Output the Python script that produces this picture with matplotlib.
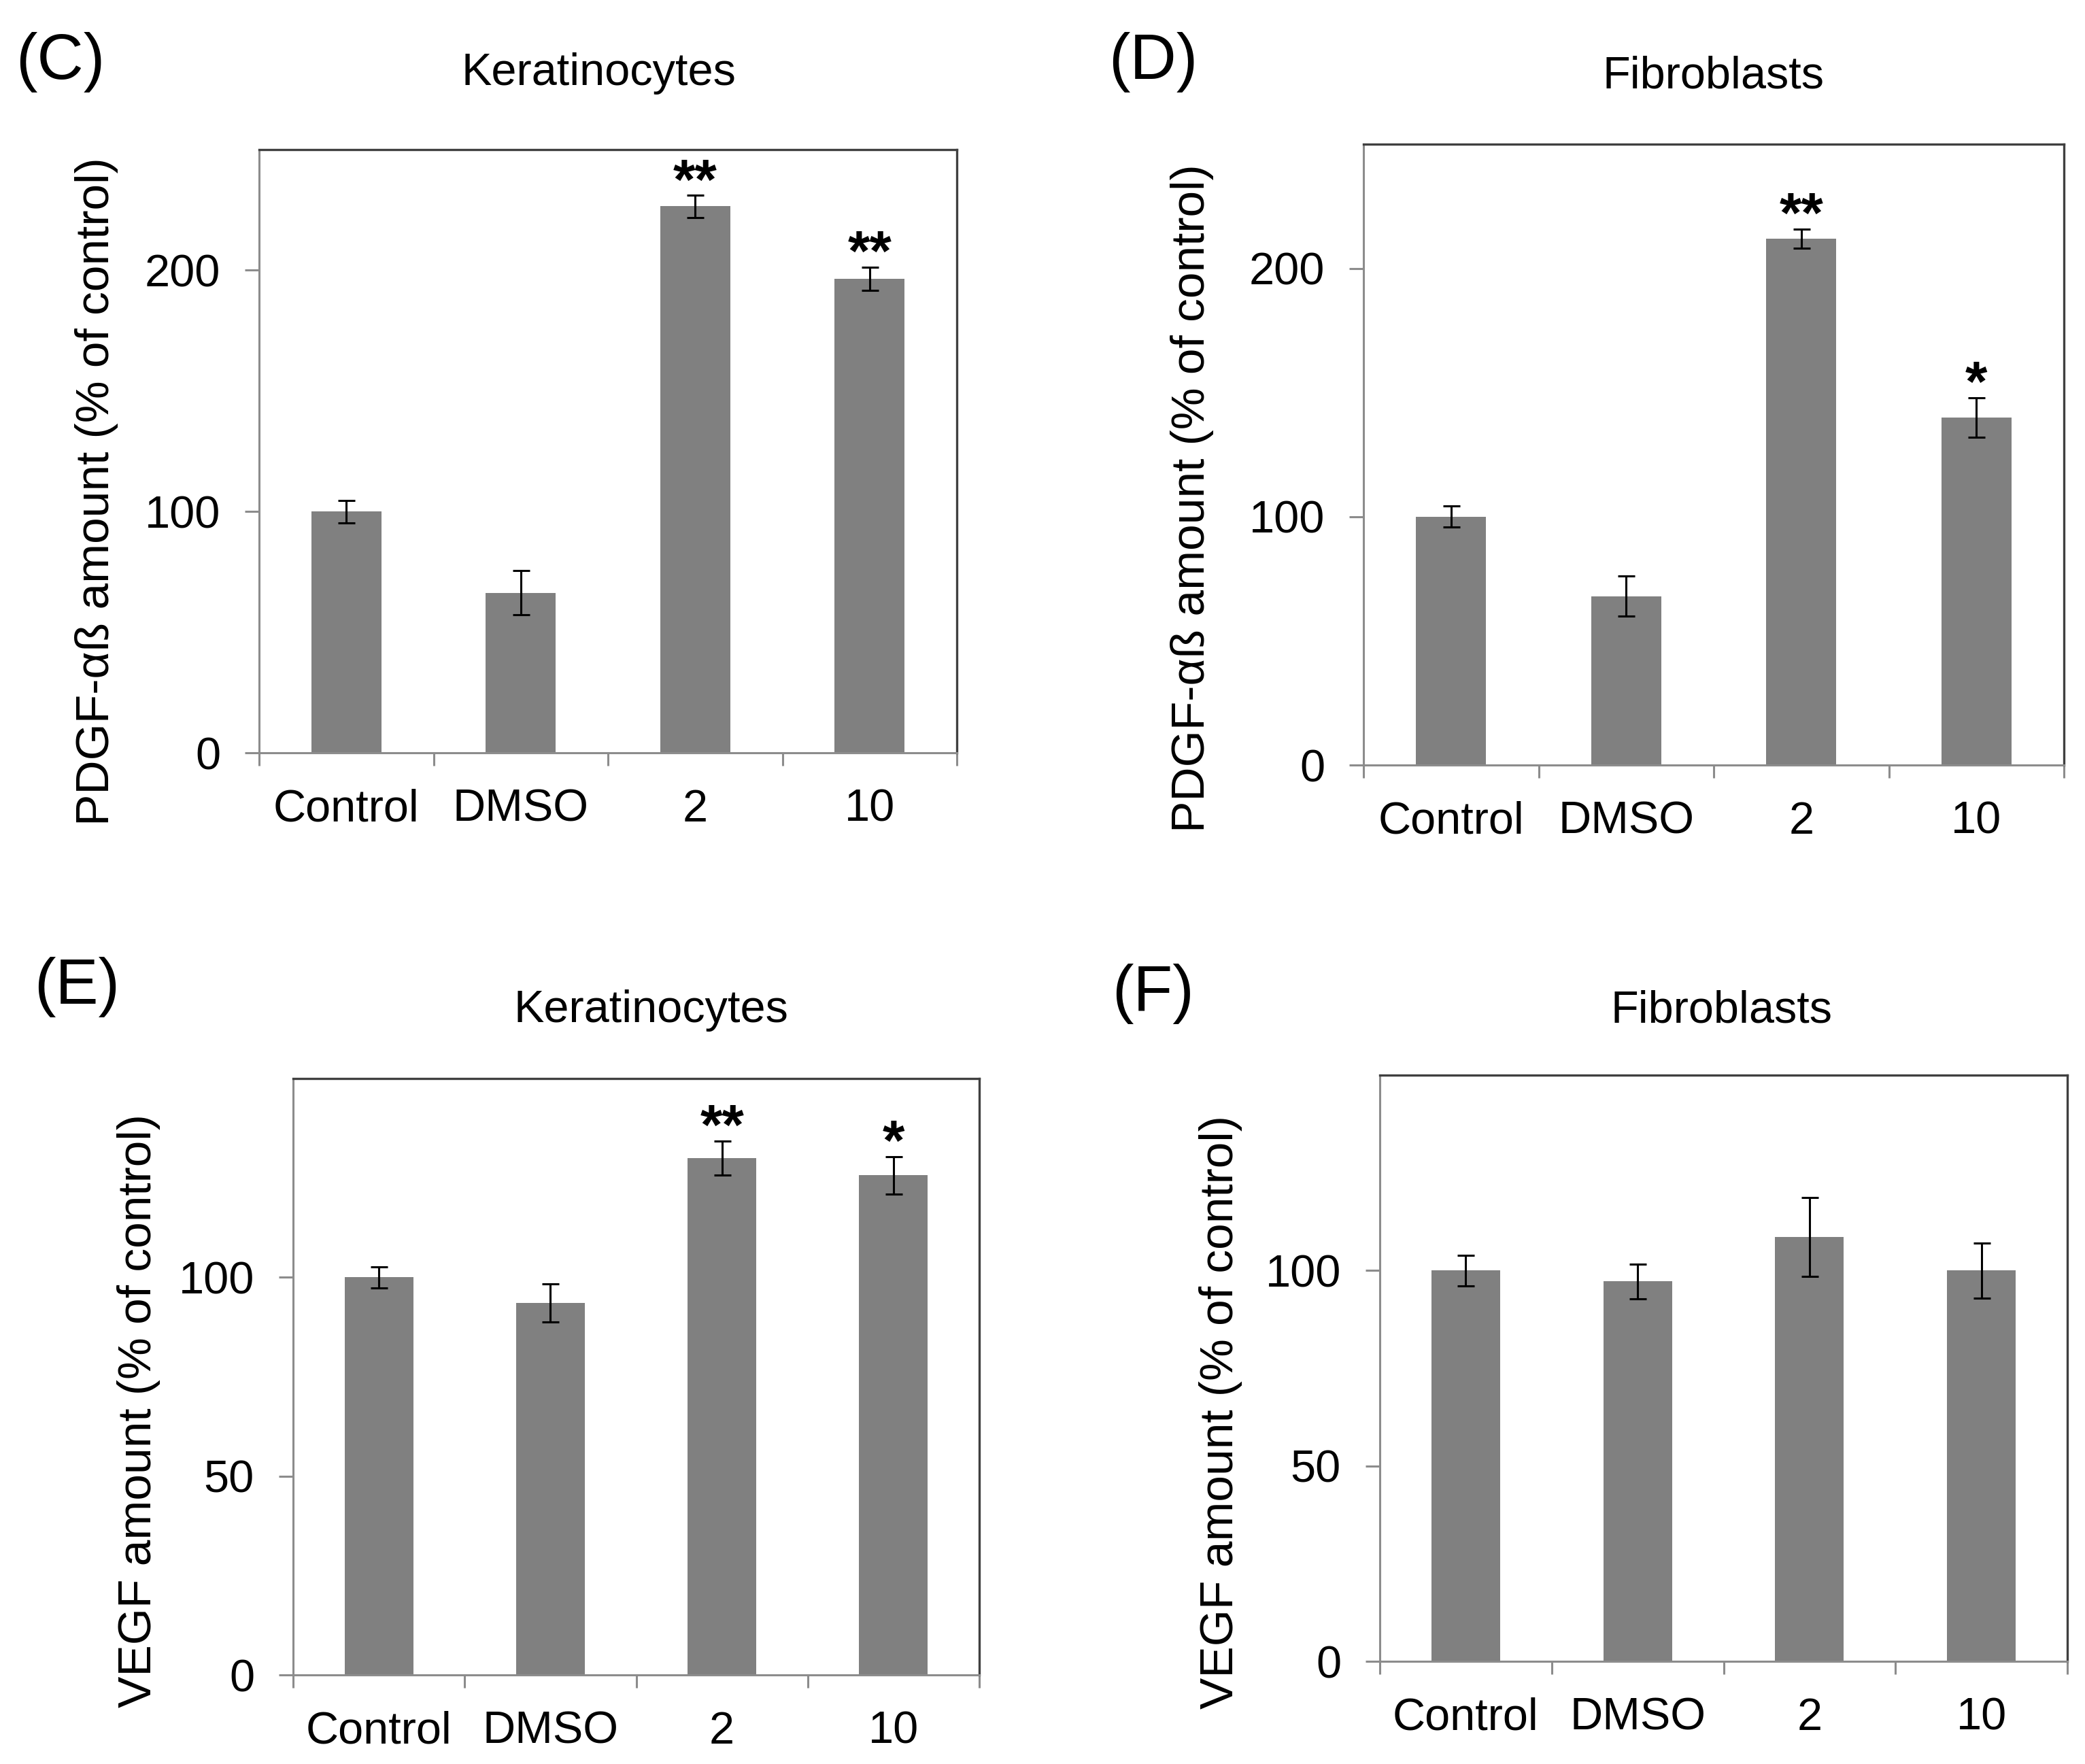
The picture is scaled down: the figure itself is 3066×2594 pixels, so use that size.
import matplotlib
matplotlib.use('Agg')
import matplotlib.pyplot as plt

plt.rcParams['font.family'] = ['Liberation Sans', 'DejaVu Sans']

W, H = 3066, 2594
DPI = 200

categories = ['Control', 'DMSO', '2', '10']

# PDGF-ab, keratinocytes (C) and fibroblasts (D)
pdgf_kera = [100, 66.3, 226.5, 196.5]
pdgf_kera_err = [4.7, 9.1, 4.6, 4.8]
pdgf_kera_stars = ['', '', '**', '**']

pdgf_fibro = [100, 68, 212, 140]
pdgf_fibro_err = [4.2, 8, 3.9, 8]
pdgf_fibro_stars = ['', '', '**', '*']

# VEGF, keratinocytes (E) and fibroblasts (F)
vegf_kera = [100, 93.6, 130, 125.7]
vegf_kera_err = [2.7, 4.8, 4.3, 4.7]
vegf_kera_stars = ['', '', '**', '*']

vegf_fibro = [100, 97.2, 108.6, 100]
vegf_fibro_err = [3.9, 4.4, 10.1, 7]
vegf_fibro_stars = ['', '', '', '']

pdgf_label = 'PDGF-\u03b1\u00df amount (% of control)'
vegf_label = 'VEGF amount (% of control)'

FS = 24
AXIS_GRAY = '#8c8c8c'
BORDER = '#404040'


def px_rect(left, right, top, bottom):
    return [left / W, 1 - bottom / H, (right - left) / W, (bottom - top) / H]


def draw_panel(fig, rect, vals, errs, stars, ymax, yticks):
    ax = fig.add_axes(rect)
    x = list(range(len(categories)))
    ax.bar(x, vals, width=0.4, color='#808080', zorder=2)
    ax.errorbar(x, vals, yerr=errs, fmt='none', ecolor='black',
                elinewidth=1.1, capsize=4.5, capthick=1.1, zorder=3)
    for xi, v, e, s in zip(x, vals, errs, stars):
        if s:
            ax.annotate(s, (xi, v + e), xytext=(0, -2), textcoords='offset points',
                        ha='center', va='baseline', fontsize=30, fontweight='bold')
    ax.set_xlim(-0.5, len(categories) - 0.5)
    ax.set_ylim(0, ymax)
    ax.set_yticks(yticks)
    ax.set_yticklabels([str(t) for t in yticks], fontsize=FS)
    # category boundaries get the tick marks, names sit on minor ticks
    ax.set_xticks([i - 0.5 for i in range(len(categories) + 1)])
    ax.set_xticklabels([''] * (len(categories) + 1))
    ax.set_xticks(x, minor=True)
    ax.set_xticklabels(categories, minor=True, fontsize=FS)
    ax.tick_params(axis='x', which='major', direction='out', length=7,
                   width=1.1, color=AXIS_GRAY)
    ax.tick_params(axis='x', which='minor', length=0, pad=19)
    ax.tick_params(axis='y', direction='out', length=7.5, width=1.1,
                   color=AXIS_GRAY, pad=13)
    for side in ['left', 'bottom']:
        ax.spines[side].set_color(AXIS_GRAY)
        ax.spines[side].set_linewidth(1.1)
    for side in ['top', 'right']:
        ax.spines[side].set_color(BORDER)
        ax.spines[side].set_linewidth(1.2)
    return ax


fig = plt.figure(figsize=(W / DPI, H / DPI), dpi=DPI)

draw_panel(fig, px_rect(381, 1407, 220, 1107), pdgf_kera, pdgf_kera_err,
           pdgf_kera_stars, 250, [0, 100, 200])
draw_panel(fig, px_rect(2005, 3035, 212, 1125), pdgf_fibro, pdgf_fibro_err,
           pdgf_fibro_stars, 250, [0, 100, 200])
draw_panel(fig, px_rect(431, 1440, 1586, 2463), vegf_kera, vegf_kera_err,
           vegf_kera_stars, 150, [0, 50, 100])
draw_panel(fig, px_rect(2029, 3040, 1581, 2443), vegf_fibro, vegf_fibro_err,
           vegf_fibro_stars, 150, [0, 50, 100])

# panel letters, titles and y labels
panels = [
    ('(C)', 89, 92, 'Keratinocytes', 880, 108, pdgf_label, 142, 723),
    ('(D)', 1696, 92, 'Fibroblasts', 2519, 112, pdgf_label, 1753, 733),
    ('(E)', 113, 1452, 'Keratinocytes', 957, 1486, vegf_label, 204, 2075),
    ('(F)', 1695, 1462, 'Fibroblasts', 2532, 1486, vegf_label, 1795, 2077),
]
for letter, lx, ly, title, tx, ty, ylab, yx, yy in panels:
    fig.text(lx / W, 1 - ly / H, letter, fontsize=34, ha='center', va='center')
    fig.text(tx / W, 1 - ty / H, title, fontsize=FS, ha='center', va='center')
    fig.text(yx / W, 1 - yy / H, ylab, fontsize=25, rotation=90,
             ha='center', va='center')

fig.savefig('out.png', dpi=DPI, facecolor='white')
